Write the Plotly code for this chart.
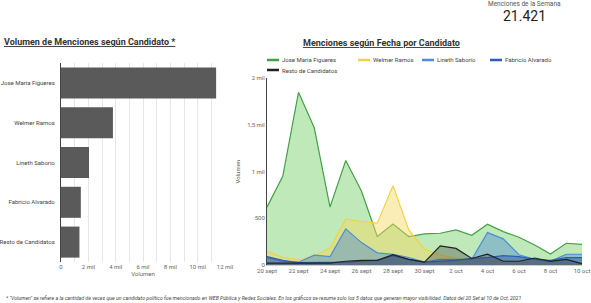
import plotly.graph_objects as go

W, H = 591, 303

# ---- data ----
candidates = ["Jose Maria Figueres", "Welmer Ramos", "Lineth Saborio", "Fabricio Alvarado", "Resto de Candidatos"]
bar_values = [11350, 3800, 2050, 1450, 1350]
bar_ticks = [0, 2000, 4000, 6000, 8000, 10000, 12000]
bar_ticktext = ["0", "2 mil", "4 mil", "6 mil", "8 mil", "10 mil", "12 mil"]

dates = ["2021-09-20", "2021-09-21", "2021-09-22", "2021-09-23", "2021-09-24", "2021-09-25", "2021-09-26",
         "2021-09-27", "2021-09-28", "2021-09-29", "2021-09-30", "2021-10-01", "2021-10-02", "2021-10-03",
         "2021-10-04", "2021-10-05", "2021-10-06", "2021-10-07", "2021-10-08", "2021-10-09", "2021-10-10"]
figueres = [620, 950, 1850, 1470, 620, 1120, 790, 305, 440, 305, 333, 340, 376, 319, 437, 358, 297, 215, 118, 233, 222]
welmer = [143, 82, 54, 97, 180, 491, 466, 448, 850, 376, 170, 105, 75, 50, 45, 45, 40, 15, 10, 10, 15]
lineth = [80, 40, 30, 105, 90, 387, 240, 130, 115, 80, 30, 60, 60, 60, 347, 280, 110, 60, 40, 115, 115]
fabricio = [90, 50, 25, 25, 30, 30, 40, 50, 100, 60, 30, 40, 50, 70, 80, 100, 90, 60, 50, 80, 80]
resto = [20, 20, 15, 20, 20, 40, 50, 50, 110, 60, 30, 205, 178, 70, 117, 40, 40, 75, 40, 60, 15]

date_ticks = ["2021-09-20", "2021-09-22", "2021-09-24", "2021-09-26", "2021-09-28", "2021-09-30",
              "2021-10-02", "2021-10-04", "2021-10-06", "2021-10-08", "2021-10-10"]
date_ticktext = ["20 sept", "22 sept", "24 sept", "26 sept", "28 sept", "30 sept",
                 "2 oct", "4 oct", "6 oct", "8 oct", "10 oct"]
line_ticks = [0, 500, 1000, 1500, 2000]
line_ticktext = ["0", "500", "1 mil", "1,5 mil", "2 mil"]

total_text = "21.421"

series = [
    ("Jose Maria Figueres", figueres, "#43a047", "rgba(140,215,130,0.55)"),
    ("Welmer Ramos", welmer, "#f2d245", "rgba(245,215,90,0.45)"),
    ("Lineth Saborio", lineth, "#4a8fd8", "rgba(80,140,210,0.45)"),
    ("Fabricio Alvarado", fabricio, "#2a5fb8", "rgba(40,80,160,0.45)"),
    ("Resto de Candidatos", resto, "#222222", "rgba(60,60,60,0.35)"),
]

FONT = "Roboto"
GRAY = "#666666"

def px(x):
    return x / W

def py(y):
    return 1 - y / H

fig = go.Figure()

fig.add_trace(go.Bar(
    x=bar_values, y=candidates, orientation="h",
    marker=dict(color="#5a5a5a", line=dict(width=0)),
    xaxis="x", yaxis="y", showlegend=False,
))

for name, vals, lc, fc in series:
    fig.add_trace(go.Scatter(
        x=dates, y=vals, mode="lines", name=name,
        line=dict(color=lc, width=1.2), fill="tozeroy", fillcolor=fc,
        xaxis="x2", yaxis="y2", showlegend=False,
    ))

layout = dict(
    width=W, height=H, margin=dict(l=0, r=0, t=0, b=0, autoexpand=False),
    paper_bgcolor="white", plot_bgcolor="white",
    font=dict(family=FONT, size=7, color=GRAY),
    bargap=0.22,
    xaxis=dict(domain=[px(61), px(225)], range=[0, 12000], tickvals=bar_ticks, ticktext=bar_ticktext,
               showgrid=True, gridcolor="#e6e6e6", gridwidth=1,
               minor=dict(dtick=1000, showgrid=True, gridcolor="#e6e6e6"),
               zeroline=False, showline=False, ticks="", tickfont=dict(size=6, color=GRAY), automargin=False,
               title=dict(text="Volumen", font=dict(size=6, color=GRAY), standoff=2)),
    yaxis=dict(domain=[py(262), py(63)], autorange="reversed", showline=True, linecolor="#444444",
               linewidth=1, ticks="", tickfont=dict(size=6, color="#444444"), ticklabelstandoff=4,
               automargin=False),
    xaxis2=dict(domain=[px(267), px(582)], type="date", range=["2021-09-20", "2021-10-10"],
                tickvals=date_ticks, ticktext=date_ticktext, showgrid=False, zeroline=False,
                showline=True, linecolor="#cccccc", ticks="", tickfont=dict(size=6, color=GRAY), anchor="y2",
                automargin=False),
    yaxis2=dict(domain=[py(265), py(78.3)], range=[0, 2000], tickvals=line_ticks, ticktext=line_ticktext,
                showgrid=False, zeroline=False, showline=True, linecolor="#444444", ticks="",
                tickfont=dict(size=6, color=GRAY), anchor="x2", automargin=False,
                title=dict(text="Volumen", font=dict(size=6, color=GRAY), standoff=6)),
)
fig.update_layout(**layout)

ann = [
    dict(text="<b><u>Volumen de Menciones según Candidato *</u></b>", x=px(4), y=py(42),
         xanchor="left", yanchor="middle", font=dict(size=9, color="#333333")),
    dict(text="<b><u>Menciones según Fecha por Candidato</u></b>", x=px(381), y=py(43),
         xanchor="center", yanchor="middle", font=dict(size=9, color="#333333")),
    dict(text="Menciones de la Semana", x=px(524), y=py(4), xanchor="center", yanchor="middle",
         font=dict(size=6.5, color="#555555")),
    dict(text=total_text, x=px(524), y=py(16), xanchor="center", yanchor="middle",
         font=dict(size=14, color="#222222")),
    dict(text="<i>* \"Volumen\" se refiere a la cantidad de veces que un candidato político fue mencionado en WEB Pública y Redes Sociales. "
              "En los gráficos se resume solo los 5 datos que generan mayor visibilidad. Datos del 20 Set al 10 de Oct, 2021</i>",
         x=px(6), y=py(298), xanchor="left", yanchor="middle", font=dict(size=5.2, color="#444444")),
]

# manual legend
legend_pos = [(267, 60), (358, 60), (422, 60), (490, 60), (267, 70)]
shapes = []
for (name, vals, lc, fc), (lx, ly) in zip(series, legend_pos):
    shapes.append(dict(type="line", xref="paper", yref="paper", x0=px(lx), x1=px(lx + 12),
                       y0=py(ly), y1=py(ly), line=dict(color=lc, width=2.5)))
    ann.append(dict(text=name, x=px(lx + 15), y=py(ly), xanchor="left", yanchor="middle",
                    font=dict(size=6, color="#444444")))

for a in ann:
    a.update(xref="paper", yref="paper", showarrow=False, borderpad=0, borderwidth=0)
fig.update_layout(annotations=ann, shapes=shapes)

fig.write_html("out.html", config={"displayModeBar": False},
               post_script="document.body.style.margin='0';")
